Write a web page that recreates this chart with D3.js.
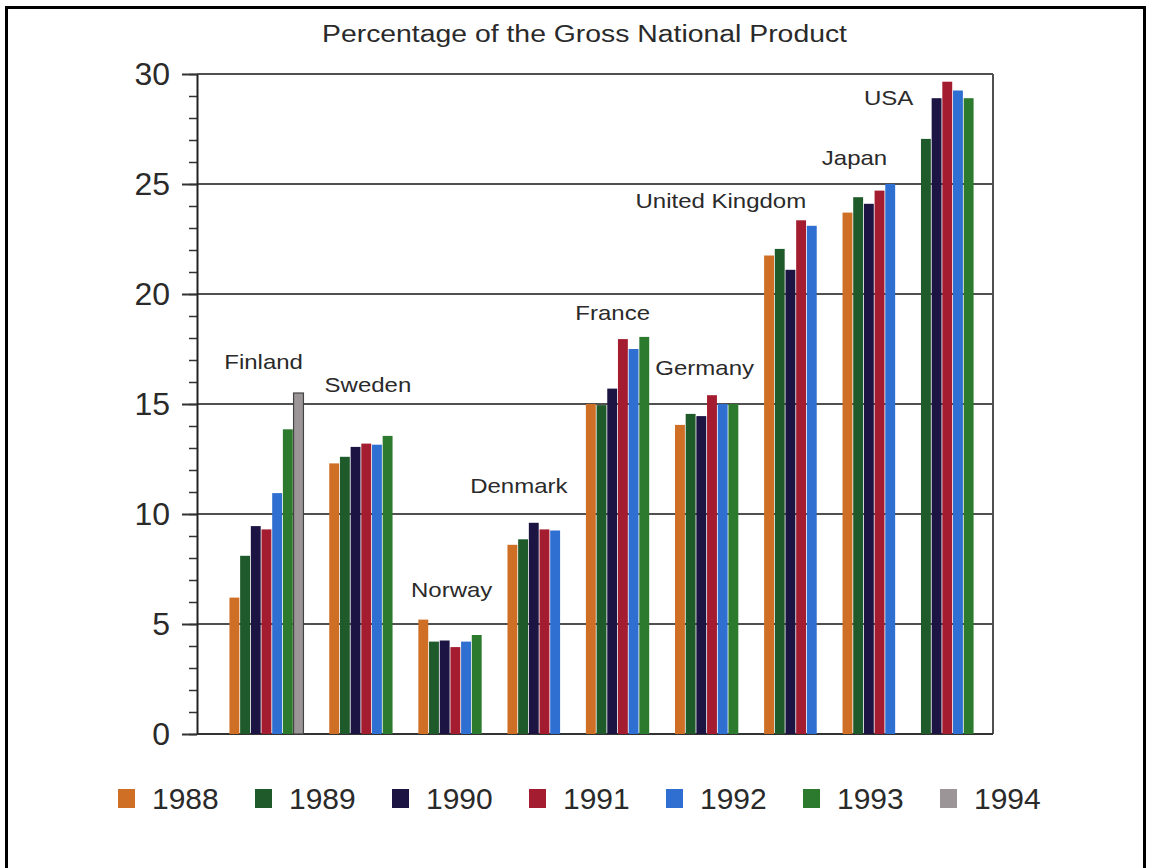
<!DOCTYPE html>
<html>
<head>
<meta charset="utf-8">
<script src="https://cdn.jsdelivr.net/npm/d3@7"></script>
<style>
  body { margin: 0; background: #fff; }
  text { font-family: "Liberation Sans", Arial, Helvetica, sans-serif; fill: #2a2a2a; }
</style>
</head>
<body>
<svg id="chart" width="1152" height="868"></svg>
<script>
const countries = ['Finland', 'Sweden', 'Norway', 'Denmark', 'France', 'Germany', 'United Kingdom', 'Japan', 'USA'];
const years = ['1988', '1989', '1990', '1991', '1992', '1993', '1994'];

// values per year, null = no bar
const finland = [6.2, 8.1, 9.45, 9.3, 10.95, 13.85, 15.5];
const sweden = [12.3, 12.6, 13.05, 13.2, 13.15, 13.55, null];
const norway = [5.2, 4.2, 4.25, 3.95, 4.2, 4.5, null];
const denmark = [8.6, 8.85, 9.6, 9.3, 9.25, null, null];
const france = [15.0, 14.95, 15.7, 17.95, 17.5, 18.05, null];
const germany = [14.05, 14.55, 14.45, 15.4, 15.0, 15.0, null];
const uk = [21.75, 22.05, 21.1, 23.35, 23.1, null, null];
const japan = [23.7, 24.4, 24.1, 24.7, 25.0, null, null];
const usa = [null, 27.05, 28.9, 29.65, 29.25, 28.9, null];
const series = [finland, sweden, norway, denmark, france, germany, uk, japan, usa];

// country label anchors: [bar slots from group start, value]
const labelAt = [[-0.45, 16.6], [-0.4, 15.55], [-0.65, 6.25], [-3.45, 10.95], [-0.95, 18.8],
                 [-1.8, 16.3], [-12, 23.9], [-1.9, 25.85], [-5.3, 28.6]];

const yTicks = [0, 5, 10, 15, 20, 25, 30];
const colors = ['#cf6f26', '#1f5a2a', '#1c1543', '#a31c2f', '#2f6fd2', '#2b7a2e', '#9b9597'];

const svg = d3.select('#chart');
const plot = { left: 197, right: 993, top: 74, bottom: 734 };
const gapSlots = 2.34;

// lay bars out: only present bars packed, fixed gap between groups
let bars = [], groupStart = [], pos = 0;
series.forEach((vals, g) => {
  groupStart.push(pos);
  vals.forEach((v, i) => {
    if (v !== null) { bars.push({ g: g, year: i, value: v, slot: pos }); pos += 1; }
  });
  pos += gapSlots;
});
const totalSlots = pos - gapSlots;

const x = d3.scaleLinear().domain([-3, totalSlots + 1.78]).range([plot.left, plot.right]);
const y = d3.scaleLinear().domain([0, 30]).range([plot.bottom, plot.top]);
const bw = x(1) - x(0);

// outer frame
svg.append('path')
  .attr('d', 'M6.5,870 V7.5 H1144.5 V870')
  .attr('fill', 'none').attr('stroke', '#000').attr('stroke-width', 3);

svg.append('text')
  .attr('x', 322).attr('y', 42)
  .attr('textLength', 525).attr('lengthAdjust', 'spacingAndGlyphs')
  .style('font-size', '23px')
  .text('Percentage of the Gross National Product');

// grid
svg.append('g').selectAll('line')
  .data(yTicks.slice(1))
  .enter().append('line')
  .attr('x1', plot.left).attr('x2', plot.right)
  .attr('y1', d => y(d)).attr('y2', d => y(d))
  .attr('stroke', '#505050').attr('stroke-width', 2);

svg.append('line')
  .attr('x1', plot.right).attr('x2', plot.right).attr('y1', plot.top).attr('y2', plot.bottom)
  .attr('stroke', '#505050').attr('stroke-width', 2);
svg.append('line')
  .attr('x1', plot.left).attr('x2', plot.right).attr('y1', plot.bottom).attr('y2', plot.bottom)
  .attr('stroke', '#333').attr('stroke-width', 2);

// bars
svg.append('g').selectAll('rect')
  .data(bars)
  .enter().append('rect')
  .attr('x', d => x(d.slot) + 0.4)
  .attr('y', d => y(d.value))
  .attr('width', bw - 0.8)
  .attr('height', d => y(0) - y(d.value))
  .attr('fill', d => colors[d.year])
  .attr('stroke', d => d.year === 6 ? '#444' : 'none')
  .attr('stroke-width', 1.2);

// y axis: minor ticks each unit, major every 5
svg.append('g')
  .attr('transform', 'translate(' + plot.left + ',0)')
  .call(d3.axisLeft(y).ticks(30).tickSize(8).tickFormat(''))
  .call(g => g.select('.domain').remove())
  .selectAll('line').attr('stroke', '#333').attr('stroke-width', 1.5);

const yAxis = svg.append('g')
  .attr('transform', 'translate(' + plot.left + ',0)')
  .call(d3.axisLeft(y).tickValues(yTicks).tickSize(15).tickPadding(12).tickSizeOuter(0));
yAxis.select('.domain').attr('stroke', '#222').attr('stroke-width', 2);
yAxis.selectAll('line').attr('stroke', '#333').attr('stroke-width', 2);
yAxis.selectAll('text')
  .style('font-size', '32px')
  .style('font-family', '"Liberation Sans", Arial, sans-serif')
  .attr('fill', '#2a2a2a');

// country labels
svg.append('g').selectAll('text')
  .data(countries)
  .enter().append('text')
  .attr('transform', (d, i) => 'translate(' + x(groupStart[i] + labelAt[i][0]) + ',' + y(labelAt[i][1]) + ') scale(1.2,1)')
  .style('font-size', '20px')
  .text(d => d);

// legend
const legend = svg.append('g').attr('transform', 'translate(118,789)');
const item = legend.selectAll('g')
  .data(years)
  .enter().append('g')
  .attr('transform', (d, i) => 'translate(' + (i * 137) + ',0)');
item.append('rect')
  .attr('width', 17).attr('height', 19)
  .attr('fill', (d, i) => colors[i]);
item.append('text')
  .attr('x', 34).attr('y', 20)
  .style('font-size', '30px')
  .text(d => d);
</script>
</body>
</html>
